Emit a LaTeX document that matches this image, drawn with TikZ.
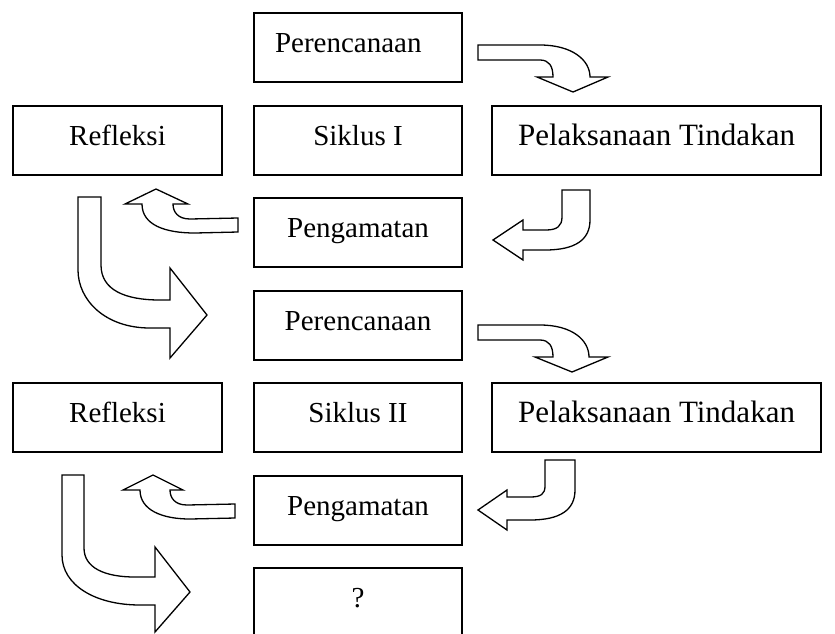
\documentclass[tikz,border=0pt]{standalone}
\usepackage{fontspec}
\setmainfont{Liberation Serif}
\begin{document}
\begin{tikzpicture}[x=1pt,y=-1pt,
  box/.style={draw, line width=1.5pt, inner sep=0pt, minimum width=208pt, minimum height=69pt,
    text height=20pt, text depth=11pt, font=\fontsize{29}{34}\selectfont},
  widetext/.style={font=\fontsize{31}{36}\selectfont, text height=21pt, text depth=12pt},
  blockarrow/.style={draw, line width=1.3pt, fill=white, line join=miter}]
\useasboundingbox (0,0) rectangle (835,633);
\clip (0,0) rectangle (835,633);
% boxes
\node[box, text width=166pt, align=left] (p1) at (358,47.5) {Perencanaan};
\node[box, minimum width=209pt] (ref1) at (117.5,140.5) {Refleksi};
\node[box] (sik1) at (358,140.5) {Siklus I};
\node[box, widetext, minimum width=329pt] (pel1) at (656.5,140.5) {Pelaksanaan Tindakan};
\node[box] (peng1) at (358,232.5) {Pengamatan};
\node[box] (p2) at (358,325.5) {Perencanaan};
\node[box, minimum width=209pt] (ref2) at (117.5,417.5) {Refleksi};
\node[box] (sik2) at (358,417.5) {Siklus II};
\node[box, widetext, minimum width=329pt] (pel2) at (656.5,417.5) {Pelaksanaan Tindakan};
\node[box] (peng2) at (358,510.5) {Pengamatan};
\node[box] (q) at (358,602.5) {?};
% block arrows, cycle I
\draw[blockarrow] (478,45) -- (540,45) .. controls (572,45) and (590,60) .. (590,77)
  -- (608,77) -- (573,92) -- (537,77) -- (553,77) .. controls (553,66) and (549,60) .. (540,60)
  -- (478,60) -- cycle;
\draw[blockarrow] (562,190) -- (590,190) -- (590,220) .. controls (590,240) and (575,250) .. (545,250)
  -- (523,250) -- (523,260) -- (493,240) -- (523,220) -- (523,230) -- (546,230)
  .. controls (557,230) and (562,226) .. (562,217) -- cycle;
\draw[blockarrow] (238,218) -- (190,219) .. controls (178,219) and (173,212) .. (173,204)
  -- (188,204) -- (156,189) -- (125,204) -- (142,204) .. controls (142,225) and (165,233) .. (195,233)
  -- (238,232) -- cycle;
\draw[blockarrow] (78,197) -- (101,197) -- (101,265) .. controls (101,290) and (125,300) .. (160,300)
  -- (170,300) -- (170,268) -- (207,315) -- (170,358) -- (170,328) -- (150,328)
  .. controls (105,328) and (78,300) .. (78,270) -- cycle;
% block arrows, cycle II
\draw[blockarrow] (478,325) -- (540,325) .. controls (572,325) and (589,340) .. (589,357)
  -- (608,357) -- (572,372) -- (535,357) -- (553,357) .. controls (553,346) and (549,340) .. (540,340)
  -- (478,340) -- cycle;
\draw[blockarrow] (545,460) -- (575,460) -- (575,490) .. controls (575,510) and (560,520) .. (530,520)
  -- (507,520) -- (507,530) -- (478,510) -- (507,490) -- (507,497) -- (530,497)
  .. controls (541,497) and (545,494) .. (545,486) -- cycle;
\draw[blockarrow] (235,504) -- (187,505) .. controls (175,505) and (170,498) .. (170,490)
  -- (183,490) -- (153,475) -- (123,490) -- (140,490) .. controls (140,510) and (162,519) .. (190,519)
  -- (235,518) -- cycle;
\draw[blockarrow] (62,475) -- (84,475) -- (84,548) .. controls (84,568) and (105,577) .. (135,577)
  -- (155,577) -- (155,547) -- (190,592) -- (155,632) -- (155,605) -- (140,605)
  .. controls (95,605) and (62,585) .. (62,555) -- cycle;
\end{tikzpicture}
\end{document}
